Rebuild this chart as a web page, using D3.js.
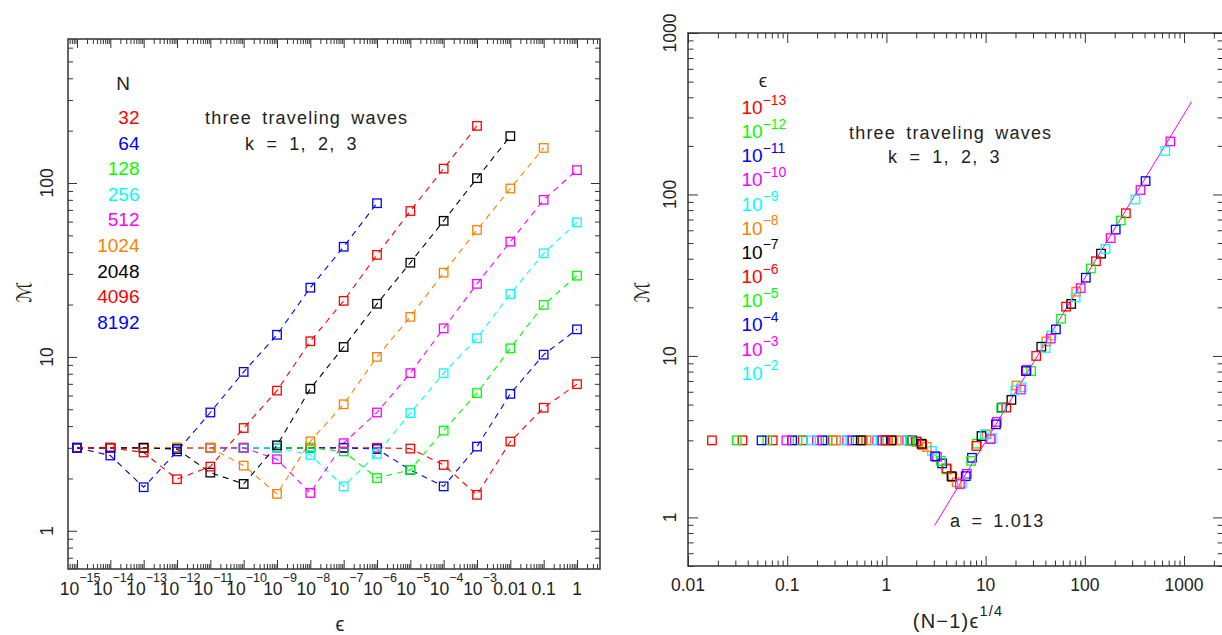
<!DOCTYPE html>
<html>
<head>
<meta charset="utf-8">
<title>M vs epsilon - three traveling waves</title>
<script src="https://cdn.jsdelivr.net/npm/d3@7/dist/d3.min.js"></script>
<style>
    body { margin: 0; background: #fff; }
    text { font-family: "Liberation Sans", "DejaVu Sans", sans-serif; fill: #222; }
</style>
</head>
<body>
<div id="chart"></div>
<script>
// 1. Datos leídos de la figura
// exponentes de epsilon (eje x del panel izquierdo)
const epsExp = [-15, -14, -13, -12, -11, -10, -9, -8, -7, -6, -5, -4, -3, -2, -1, 0];
const nValues = [32, 64, 128, 256, 512, 1024, 2048, 4096, 8192];
const nColors = ["#ff0000", "#0000ff", "#00ff00", "#00ffff", "#ff00ff", "#ff8000", "#000000", "#ff0000", "#0000ff"];

// M para cada N, un valor por epsilon (null = sin punto)
const mN32 = [3, 3, 3, 3, 3, 3, 3, 3, 3, 3, 2.97, 2.39, 1.61, 3.26, 5.1, 6.97];
const mN64 = [3, 3, 3, 3, 3, 3, 3, 3, 3, 2.95, 2.24, 1.8, 3.05, 6.13, 10.3, 14.4];
const mN128 = [3, 3, 3, 3, 3, 3, 3, 3, 2.86, 2.01, 2.24, 3.77, 6.19, 11.2, 19.9, 29.3];
const mN256 = [3, 3, 3, 3, 3, 3, 3, 2.73, 1.8, 2.77, 4.75, 8.06, 12.8, 23, 39.4, 59.4];
const mN512 = [3, 3, 3, 3, 3, 3, 2.58, 1.65, 3.19, 4.79, 8.06, 14.6, 26.3, 46, 80, 118.6];
const mN1024 = [3, 3, 3, 3, 3, 2.37, 1.63, 3.27, 5.34, 10.0, 17.0, 30.5, 53.7, 93, 159, null];
const mN2048 = [3, 3, 3, 2.95, 2.16, 1.86, 3.1, 6.56, 11.4, 20.2, 34.8, 60.6, 106.6, 186, null, null];
const mN4096 = [3, 3, 2.82, 1.98, 2.34, 3.9, 6.4, 12.3, 21, 38.6, 69, 121, 213, null, null, null];
const mN8192 = [3, 2.71, 1.78, 2.86, 4.79, 8.2, 13.4, 25, 43, 76.5, null, null, null, null, null, null];
const mByN = [mN32, mN64, mN128, mN256, mN512, mN1024, mN2048, mN4096, mN8192];

// panel derecho: epsilon incluidos y su color
const rightEpsExp = [-13, -12, -11, -10, -9, -8, -7, -6, -5, -4, -3, -2];
const rightEpsColors = ["#ff0000", "#00ff00", "#0000ff", "#ff00ff", "#00ffff", "#ff8000",
    "#000000", "#ff0000", "#00ff00", "#0000ff", "#ff00ff", "#00ffff"];

// etiquetas de los ejes
const leftXLabels = ["10|−15", "10|−14", "10|−13", "10|−12", "10|−11", "10|−10", "10|−9", "10|−8",
    "10|−7", "10|−6", "10|−5", "10|−4", "10|−3", "0.01", "0.1", "1"];
const leftYLabels = [1, 10, 100];
const rightXLabels = ["0.01", "0.1", "1", "10", "100", "1000"];
const rightYLabels = [1, 10, 100, 1000];

// ajuste  M = c * x^a
const fitA = 1.013;
const fitC = 0.287;
const fitX = [3.06, 1190];

// 2. Lienzo
const svg = d3.select("#chart").append("svg").attr("width", 1222).attr("height", 635);

// marcas 1..9 x 10^d dentro del dominio
function logTicks(domain) {
    const out = [];
    const lo = Math.floor(Math.log10(domain[0]));
    const hi = Math.ceil(Math.log10(domain[1]));
    for (let d = lo; d <= hi; d++) {
        for (let k = 1; k <= 9; k++) {
            const v = k * Math.pow(10, d);
            if (v >= domain[0] && v <= domain[1]) out.push({ v, major: k === 1 });
        }
    }
    return out;
}

// marco con marcas hacia dentro en los cuatro lados
function drawFrame(g, x, y, majorLen, minorLen) {
    const [xl, xr] = x.range();
    const [yb, yt] = y.range();
    const xt = logTicks(x.domain());
    const ytk = logTicks(y.domain());
    const xMaj = xt.filter((t) => t.major).map((t) => t.v);
    const xMin = xt.filter((t) => !t.major).map((t) => t.v);
    const yMaj = ytk.filter((t) => t.major).map((t) => t.v);
    const yMin = ytk.filter((t) => !t.major).map((t) => t.v);

    const addAxis = (axis, transform) =>
        g.append("g")
            .attr("transform", transform)
            .call(axis.tickFormat(""))
            .call((s) => s.select(".domain").remove())
            .call((s) => s.selectAll("line").attr("stroke", "#333").attr("stroke-width", 1));

    addAxis(d3.axisBottom(x).tickValues(xMaj).tickSize(-majorLen), `translate(0,${yb})`);
    addAxis(d3.axisBottom(x).tickValues(xMin).tickSize(-minorLen), `translate(0,${yb})`);
    addAxis(d3.axisTop(x).tickValues(xMaj).tickSize(-majorLen), `translate(0,${yt})`);
    addAxis(d3.axisTop(x).tickValues(xMin).tickSize(-minorLen), `translate(0,${yt})`);
    addAxis(d3.axisLeft(y).tickValues(yMaj).tickSize(-majorLen), `translate(${xl},0)`);
    addAxis(d3.axisLeft(y).tickValues(yMin).tickSize(-minorLen), `translate(${xl},0)`);
    addAxis(d3.axisRight(y).tickValues(yMaj).tickSize(-majorLen), `translate(${xr},0)`);
    addAxis(d3.axisRight(y).tickValues(yMin).tickSize(-minorLen), `translate(${xr},0)`);

    g.append("rect")
        .attr("x", xl).attr("y", yt)
        .attr("width", xr - xl).attr("height", yb - yt)
        .attr("fill", "none")
        .attr("stroke", "#333")
        .attr("stroke-width", 1.5);
}

// texto con superíndice
function supText(g, x, y, base, sup, size, supSize, rise, anchor) {
    const t = g.append("text")
        .attr("x", x).attr("y", y)
        .attr("text-anchor", anchor)
        .style("font-size", size + "px");
    t.append("tspan").text(base);
    if (sup) t.append("tspan").attr("dy", -rise).style("font-size", supSize + "px").text(sup);
    return t;
}

function squares(g, data, x, y, side) {
    g.selectAll(null)
        .data(data)
        .join("rect")
        .attr("x", (d) => x(d.x) - side / 2)
        .attr("y", (d) => y(d.m) - side / 2)
        .attr("width", side)
        .attr("height", side)
        .attr("fill", "none")
        .attr("stroke", (d) => d.color)
        .attr("stroke-width", 1.3);
}

// 3. Panel izquierdo: M frente a epsilon
const xL = d3.scaleLog().domain([Math.pow(10, -15.27), Math.pow(10, 0.69)]).range([68, 600]);
const yL = d3.scaleLog().domain([0.603, 673]).range([569, 39]);
const gL = svg.append("g");

const seriesL = nValues.map((n, i) => ({
    n,
    color: nColors[i],
    pts: epsExp
        .map((e, j) => ({ x: Math.pow(10, e), m: mByN[i][j], color: nColors[i] }))
        .filter((p) => p.m != null)
}));

const lineL = d3.line().x((d) => xL(d.x)).y((d) => yL(d.m));
seriesL.forEach((s) => {
    gL.append("path")
        .attr("d", lineL(s.pts))
        .attr("fill", "none")
        .attr("stroke", s.color)
        .attr("stroke-width", 1.1)
        .attr("stroke-dasharray", "6,5");
});
seriesL.forEach((s) => squares(gL, s.pts, xL, yL, 8.5));

drawFrame(gL, xL, yL, 9, 5);

// etiquetas del eje x
leftXLabels.forEach((lab, i) => {
    const [base, sup] = lab.split("|");
    supText(gL, xL(Math.pow(10, epsExp[i])) + (sup ? 3 : 0), 595, base, sup, 17.5, 12.5, 13.5, "middle");
});
// etiquetas del eje y (giradas)
leftYLabels.forEach((v) => {
    gL.append("text")
        .attr("transform", `translate(47,${yL(v)}) rotate(-90)`)
        .attr("text-anchor", "middle")
        .attr("dy", "0.36em")
        .style("font-size", "17.5px")
        .text(v);
});
gL.append("text").attr("x", 340).attr("y", 631).attr("text-anchor", "middle")
    .style("font-size", "20px").text("ϵ");
gL.append("text").attr("transform", "translate(24,292) rotate(-90)")
    .attr("text-anchor", "middle").attr("dy", "0.35em")
    .style("font-size", "20px").text("ℳ");

// leyenda N
gL.append("text").attr("x", 123).attr("y", 90).attr("text-anchor", "middle")
    .style("font-size", "19px").text("N");
nValues.forEach((n, i) => {
    gL.append("text")
        .attr("x", 139.5)
        .attr("y", 124 + i * 25.6)
        .attr("text-anchor", "end")
        .style("font-size", "19px")
        .style("fill", nColors[i])
        .text(n);
});
gL.append("text").attr("x", 205).attr("y", 124.3)
    .style("font-size", "18px").style("letter-spacing", "1.2px").style("word-spacing", "4px")
    .text("three traveling waves");
gL.append("text").attr("x", 245).attr("y", 150)
    .style("font-size", "18px").style("letter-spacing", "1.2px").style("word-spacing", "5px")
    .text("k = 1, 2, 3");

// 4. Panel derecho: M frente a (N-1) eps^(1/4)
const xR = d3.scaleLog().domain([0.01, 2470]).range([688, 1223]);
const yR = d3.scaleLog().domain([0.5, 1000]).range([566, 33]);
const gR = svg.append("g");

const ptsR = [];
rightEpsExp.forEach((e, ci) => {
    const j = epsExp.indexOf(e);
    nValues.forEach((n, i) => {
        const m = mByN[i][j];
        if (m != null) ptsR.push({ x: (n - 1) * Math.pow(10, e / 4), m, color: rightEpsColors[ci] });
    });
});

// recta de ajuste
const lineR = d3.line().x((d) => xR(d.x)).y((d) => yR(d.m));
gR.append("path")
    .attr("d", lineR(fitX.map((x) => ({ x, m: fitC * Math.pow(x, fitA) }))))
    .attr("fill", "none")
    .attr("stroke", "#ff00ff")
    .attr("stroke-width", 1);

squares(gR, ptsR, xR, yR, 8.5);
drawFrame(gR, xR, yR, 10, 5.5);

rightXLabels.forEach((lab) => {
    gR.append("text").attr("x", xR(+lab)).attr("y", 591).attr("text-anchor", "middle")
        .style("font-size", "17.5px").text(lab);
});
rightYLabels.forEach((v) => {
    gR.append("text")
        .attr("transform", `translate(670,${yR(v)}) rotate(-90)`)
        .attr("text-anchor", "middle")
        .attr("dy", "0.36em")
        .style("font-size", "17.5px")
        .text(v);
});
supText(gR, 958, 628, "(N−1)ϵ", "1/4", 20, 14.5, 12, "middle").style("letter-spacing", "1.2px");
gR.append("text").attr("transform", "translate(642,292) rotate(-90)")
    .attr("text-anchor", "middle").attr("dy", "0.35em")
    .style("font-size", "20px").text("ℳ");

// leyenda epsilon
gR.append("text").attr("x", 763).attr("y", 87).attr("text-anchor", "middle")
    .style("font-size", "19px").text("ϵ");
rightEpsExp.forEach((e, i) => {
    supText(gR, 741.5, 114 + i * 24.15, "10", "−" + Math.abs(e), 19, 14, 9.5, "start")
        .style("fill", rightEpsColors[i]);
});
gR.append("text").attr("x", 849).attr("y", 139)
    .style("font-size", "18px").style("letter-spacing", "1.2px").style("word-spacing", "4px")
    .text("three traveling waves");
gR.append("text").attr("x", 888).attr("y", 162.5)
    .style("font-size", "18px").style("letter-spacing", "1.2px").style("word-spacing", "5px")
    .text("k = 1, 2, 3");
gR.append("text").attr("x", 950).attr("y", 527)
    .style("font-size", "18px").style("letter-spacing", "1.2px").style("word-spacing", "4px")
    .text("a = 1.013");
</script>
</body>
</html>
